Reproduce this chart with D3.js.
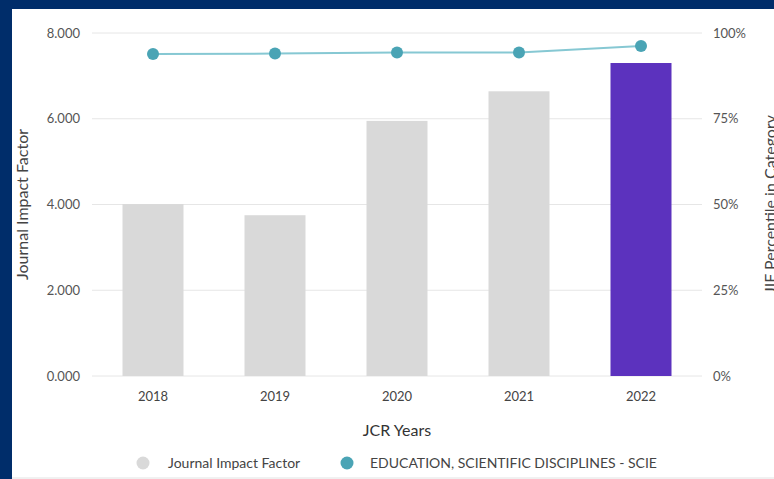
<!DOCTYPE html>
<html>
<head>
<meta charset="utf-8">
<script src="https://cdn.jsdelivr.net/npm/d3@7"></script>
<style>
html, body {
   margin: 0;
   padding: 0;
   background: #002d6a;
}
#chart {
   position: absolute;
   left: 12px;
   top: 9px;
   width: 762px;
   height: 470px;
   background: #fff;
}
text {
   font-family: Lato, "Open Sans", sans-serif;
}
</style>
</head>
<body>
<div id="chart"></div>
<script>
// values
const years = ["2018", "2019", "2020", "2021", "2022"];
const impactFactor = [4.01, 3.75, 5.95, 6.64, 7.30];
const percentile = [93.9, 94.0, 94.3, 94.3, 96.2];
const leftTicks = [0, 2, 4, 6, 8];
const rightTicks = [0, 25, 50, 75, 100];
const legendLabels = ["Journal Impact Factor", "EDUCATION, SCIENTIFIC DISCIPLINES - SCIE"];

const width = 774, height = 479;
const margin = { top: 33, right: 72, bottom: 103, left: 92 };

const svg = d3.select("body").append("svg")
    .attr("width", width)
    .attr("height", height)
    .style("position", "absolute")
    .style("left", 0)
    .style("top", 0);

// thin grey line at the bottom of the white panel
svg.append("line")
    .attr("x1", 12).attr("x2", width)
    .attr("y1", 478).attr("y2", 478)
    .attr("stroke", "#e2e2e2");

const x = d3.scaleBand()
    .domain(years)
    .range([margin.left, width - margin.right])
    .paddingInner(0.5)
    .paddingOuter(0.25);

const y = d3.scaleLinear()
    .domain([0, 8])
    .range([height - margin.bottom, margin.top]);

const y2 = d3.scaleLinear()
    .domain([0, 100])
    .range([height - margin.bottom, margin.top]);

// grid lines
svg.append("g")
    .selectAll("line")
    .data(leftTicks)
    .join("line")
    .attr("x1", margin.left)
    .attr("x2", width - margin.right)
    .attr("y1", d => y(d))
    .attr("y2", d => y(d))
    .attr("stroke", "#e6e6e6");

// left axis
const yAxis = svg.append("g")
    .attr("transform", `translate(${margin.left},0)`)
    .call(d3.axisLeft(y).tickValues(leftTicks).tickFormat(d3.format(".3f")).tickSize(0).tickPadding(12));
yAxis.select(".domain").remove();
yAxis.selectAll("text")
    .attr("font-size", 13)
    .attr("fill", "#555")
    .style("font-family", "Lato, sans-serif");

// right axis
const y2Axis = svg.append("g")
    .attr("transform", `translate(${width - margin.right},0)`)
    .call(d3.axisRight(y2).tickValues(rightTicks).tickFormat(d => d + "%").tickSize(0).tickPadding(11));
y2Axis.select(".domain").remove();
y2Axis.selectAll("text")
    .attr("font-size", 13)
    .attr("fill", "#555")
    .style("font-family", "Lato, sans-serif");

// bars
svg.append("g")
    .selectAll("rect")
    .data(years)
    .join("rect")
    .attr("x", d => x(d))
    .attr("width", x.bandwidth())
    .attr("y", (d, i) => y(impactFactor[i]))
    .attr("height", (d, i) => y(0) - y(impactFactor[i]))
    .attr("fill", (d, i) => i === years.length - 1 ? "#5c32be" : "#d9d9d9");

// x axis
const xAxis = svg.append("g")
    .attr("transform", `translate(0,${height - margin.bottom})`)
    .call(d3.axisBottom(x).tickSize(0).tickPadding(16));
xAxis.select(".domain").remove();
xAxis.selectAll("text")
    .attr("font-size", 13)
    .attr("fill", "#444")
    .style("font-family", "Lato, sans-serif");

// percentile line
const line = d3.line()
    .x((d, i) => x(years[i]) + x.bandwidth() / 2)
    .y(d => y2(d));

svg.append("path")
    .datum(percentile)
    .attr("d", line)
    .attr("fill", "none")
    .attr("stroke", "#86c8d3")
    .attr("stroke-width", 2);

svg.append("g")
    .selectAll("circle")
    .data(percentile)
    .join("circle")
    .attr("cx", (d, i) => x(years[i]) + x.bandwidth() / 2)
    .attr("cy", d => y2(d))
    .attr("r", 6)
    .attr("fill", "#4aa4b5");

// axis titles
svg.append("text")
    .attr("transform", `translate(28,${(y(0) + y(8)) / 2}) rotate(-90)`)
    .attr("text-anchor", "middle")
    .attr("font-size", 16)
    .attr("fill", "#444")
    .text("Journal Impact Factor");

svg.append("text")
    .attr("transform", `translate(776,${(y(0) + y(8)) / 2}) rotate(-90)`)
    .attr("text-anchor", "middle")
    .attr("font-size", 16)
    .attr("fill", "#444")
    .text("JIF Percentile in Category");

svg.append("text")
    .attr("x", (margin.left + width - margin.right) / 2)
    .attr("y", 436)
    .attr("text-anchor", "middle")
    .attr("font-size", 16)
    .attr("fill", "#333")
    .text("JCR Years");

// legend
const legendX = [143, 347];
const legendColors = ["#d9d9d9", "#4aa4b5"];
const legend = svg.append("g")
    .selectAll("g")
    .data(legendLabels)
    .join("g")
    .attr("transform", (d, i) => `translate(${legendX[i]},463)`);

legend.append("circle")
    .attr("r", 6.5)
    .attr("fill", (d, i) => legendColors[i]);

legend.append("text")
    .attr("x", (d, i) => i === 0 ? 25 : 23)
    .attr("dy", "0.35em")
    .attr("font-size", 14)
    .attr("fill", "#444")
    .text(d => d);
</script>
</body>
</html>
